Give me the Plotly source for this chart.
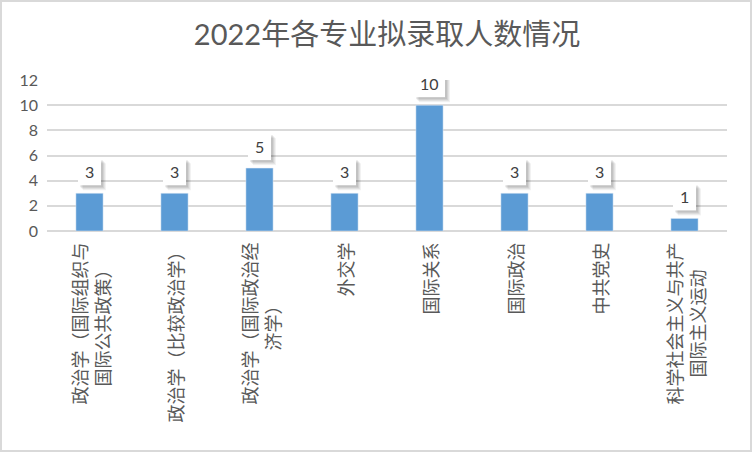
import plotly.graph_objects as go

title = "2022年各专业拟录取人数情况"
categories = [
    "政治学（国际组织与<br>国际公共政策）",
    "政治学（比较政治学）",
    "政治学（国际政治经<br>济学）",
    "外交学",
    "国际关系",
    "国际政治",
    "中共党史",
    "科学社会主义与共产<br>国际主义运动",
]
values = [3, 3, 5, 3, 10, 3, 3, 1]
y_ticks = [0, 2, 4, 6, 8, 10, 12]

W, H = 752, 452
ML, MR, MT, MB = 47, 25, 80, 221
PW, PH = W - ML - MR, H - MT - MB

GRAY = "#595959"
GRID = "#D9D9D9"
BAR = "#5B9BD5"
NUM_FONT = "Lato, 'Noto Sans CJK SC', sans-serif"
CJK_FONT = "'Noto Sans CJK SC', sans-serif"

xs = list(range(len(categories)))

fig = go.Figure(go.Bar(x=xs, y=values, marker_color=BAR, width=0.32, hoverinfo="skip"))

GAP, BOX_H = 8, 27
annotations = []
shapes = []
# data labels: soft shadow + white box (pixel-sized shapes anchored on the bar top)
for x, v in zip(xs, values):
    txt = str(v)
    w = 23 if len(txt) == 1 else 31
    for d, a in [(5, 0.05), (4, 0.06), (3, 0.07), (2, 0.08)]:
        shapes.append(dict(
            type="rect", xref="x", yref="y", xsizemode="pixel", ysizemode="pixel",
            xanchor=x, yanchor=v,
            x0=-w / 2 + d, x1=w / 2 + d, y0=GAP - d, y1=GAP + BOX_H - d,
            line=dict(width=0), fillcolor=f"rgba(0,0,0,{a})", layer="above",
        ))
    shapes.append(dict(
        type="rect", xref="x", yref="y", xsizemode="pixel", ysizemode="pixel",
        xanchor=x, yanchor=v,
        x0=-w / 2, x1=w / 2, y0=GAP, y1=GAP + BOX_H,
        line=dict(width=0), fillcolor="white", layer="above",
    ))
    annotations.append(dict(
        x=x, y=v, xref="x", yref="y", text=txt, showarrow=False,
        yanchor="middle", yshift=GAP + BOX_H / 2,
        font=dict(size=16, color="#404040", family=NUM_FONT),
    ))

# category labels (rotated, centered lines)
for x, c in zip(xs, categories):
    annotations.append(dict(
        x=x, y=0, xref="x", yref="paper", text=c, showarrow=False,
        textangle=-90, yanchor="top", xanchor="center", yshift=-10, align="center",
        font=dict(size=18, color=GRAY, family=CJK_FONT),
    ))

# outer border of the chart area
def px_to_paper_x(px):
    return (px - ML) / PW

def py_to_paper_y(py):
    return (H - MB - py) / PH

shapes.append(dict(type="rect", xref="paper", yref="paper",
                   x0=px_to_paper_x(1), x1=px_to_paper_x(751),
                   y0=py_to_paper_y(451), y1=py_to_paper_y(1),
                   line=dict(color=GRID, width=2), fillcolor="rgba(0,0,0,0)", layer="below"))

fig.update_layout(
    width=W, height=H,
    margin=dict(l=ML, r=MR, t=MT, b=MB),
    paper_bgcolor="white", plot_bgcolor="white",
    showlegend=False,
    title=dict(text=title, x=0.5, xref="paper", y=1 - 35 / H, yanchor="middle", xanchor="center",
               font=dict(size=29, color=GRAY, family=NUM_FONT)),
    xaxis=dict(range=[-0.5, len(categories) - 0.5], showticklabels=False, showgrid=False,
               zeroline=False, showline=False, fixedrange=True),
    yaxis=dict(range=[0, 12], tickvals=y_ticks, showgrid=True, gridcolor=GRID, gridwidth=1.5,
               zeroline=True, zerolinecolor=GRID, zerolinewidth=1.5, showline=False,
               tickfont=dict(size=16, color=GRAY, family=NUM_FONT), ticklabelstandoff=8,
               fixedrange=True),
    annotations=annotations,
    shapes=shapes,
)

fig.write_html("out.html", config={"displayModeBar": False},
               post_script="document.body.style.margin='0';document.body.style.overflow='hidden';")
